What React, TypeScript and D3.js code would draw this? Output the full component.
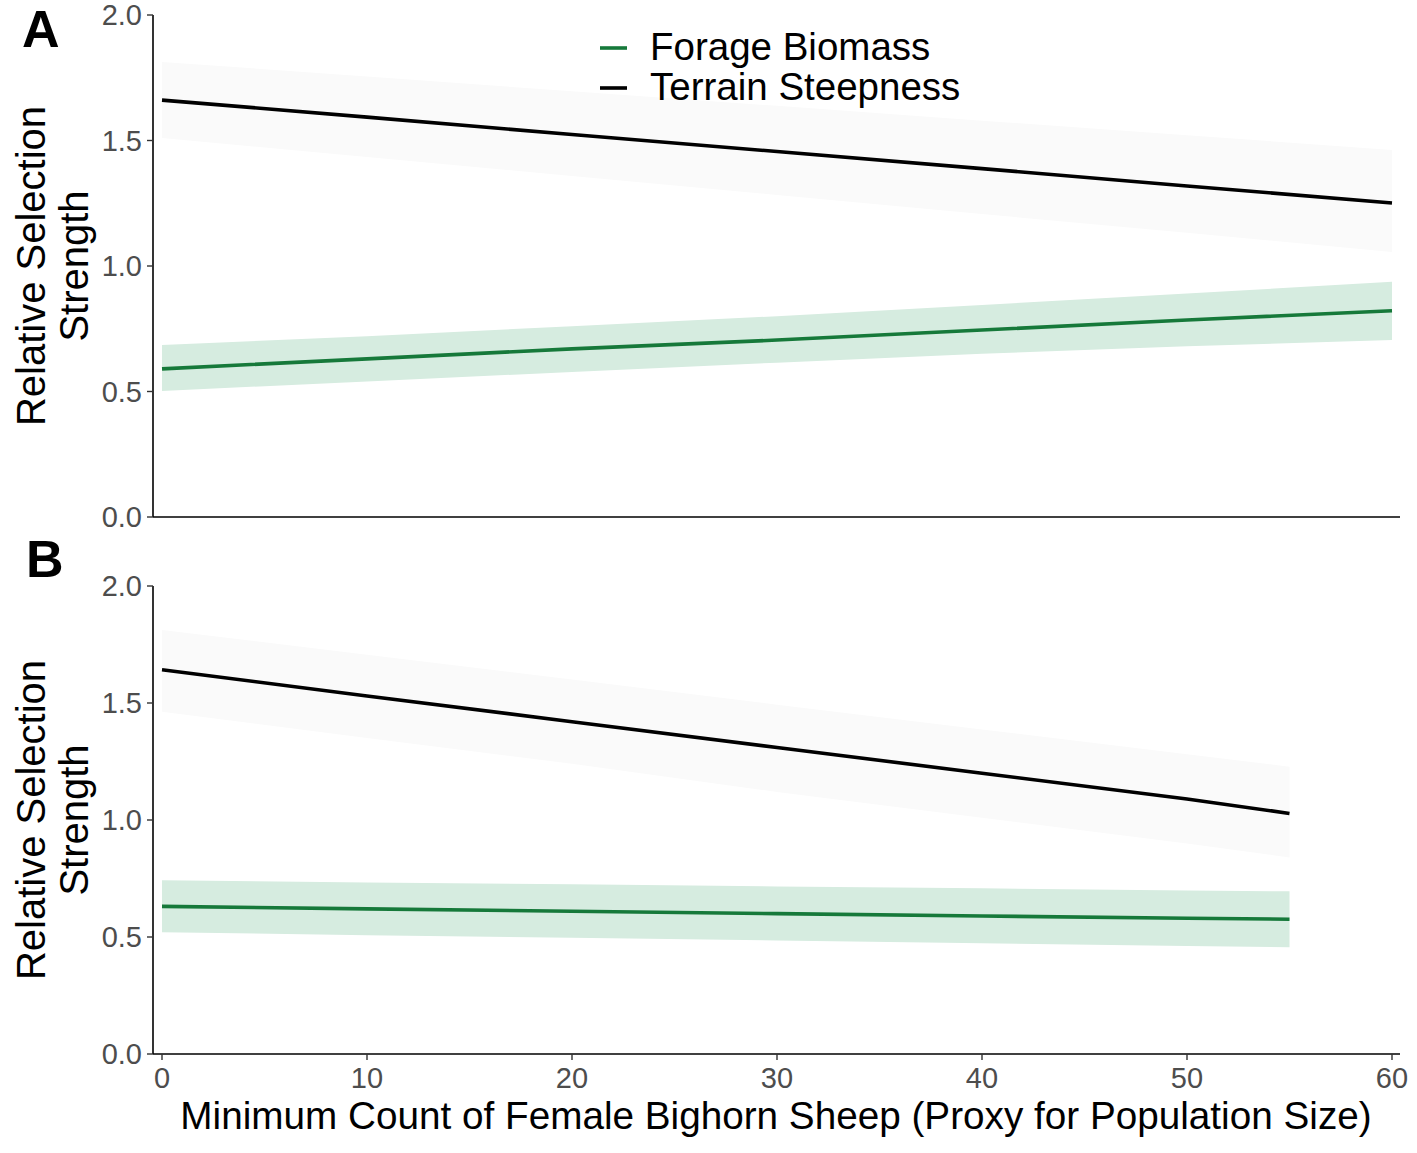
import React from "react";
import * as d3 from "d3";

// ---- Data ----
const seriesNames = ["Forage Biomass", "Terrain Steepness"];
const yTicks = [0, 0.5, 1.0, 1.5, 2.0];
const xTicks = [0, 10, 20, 30, 40, 50, 60];

// Panel A
const xA = [0, 10, 20, 30, 40, 50, 60];
const terrainA = [1.661, 1.593, 1.524, 1.456, 1.388, 1.319, 1.251];
const terrainALo = [1.51, 1.434, 1.359, 1.283, 1.207, 1.132, 1.056];
const terrainAHi = [1.813, 1.755, 1.696, 1.638, 1.579, 1.521, 1.462];
const forageA = [0.59, 0.63, 0.67, 0.705, 0.745, 0.785, 0.822];
const forageALo = [0.502, 0.54, 0.578, 0.615, 0.65, 0.68, 0.705];
const forageAHi = [0.685, 0.72, 0.76, 0.8, 0.845, 0.89, 0.937];

// Panel B
const xB = [0, 10, 20, 30, 40, 50, 55];
const terrainB = [1.642, 1.53, 1.42, 1.31, 1.2, 1.09, 1.028];
const terrainBLo = [1.463, 1.35, 1.24, 1.12, 1.01, 0.9, 0.84];
const terrainBHi = [1.812, 1.706, 1.6, 1.493, 1.387, 1.281, 1.228];
const forageB = [0.631, 0.62, 0.61, 0.6, 0.59, 0.58, 0.576];
const forageBLo = [0.52, 0.508, 0.497, 0.485, 0.473, 0.462, 0.456];
const forageBHi = [0.742, 0.733, 0.725, 0.716, 0.708, 0.699, 0.695];

const GREEN = "#16793a";
const GREEN_FILL = "#d6ece0";
const GRAY_FILL = "#fafafa";
const FONT = "'Liberation Sans', Arial, Helvetica, sans-serif";

const W = 1417;
const H = 1153;
const axisX = 153;
const axisRight = 1400;
const x = d3.scaleLinear().domain([0, 60]).range([162, 1392]);

type Panel = {
  label: string;
  top: number;
  bottom: number;
  xs: number[];
  terrain: number[];
  terrainLo: number[];
  terrainHi: number[];
  forage: number[];
  forageLo: number[];
  forageHi: number[];
  showX: boolean;
  labelY: number;
};

const panels: Panel[] = [
  {
    label: "A", top: 15, bottom: 517, xs: xA,
    terrain: terrainA, terrainLo: terrainALo, terrainHi: terrainAHi,
    forage: forageA, forageLo: forageALo, forageHi: forageAHi,
    showX: false, labelY: 47,
  },
  {
    label: "B", top: 586, bottom: 1054, xs: xB,
    terrain: terrainB, terrainLo: terrainBLo, terrainHi: terrainBHi,
    forage: forageB, forageLo: forageBLo, forageHi: forageBHi,
    showX: true, labelY: 577,
  },
];

function PanelView({ p }: { p: Panel }) {
  const y = d3.scaleLinear().domain([0, 2]).range([p.bottom, p.top]);
  const idx = p.xs.map((_, i) => i);
  const area = (lo: number[], hi: number[]) =>
    d3.area<number>().x((i) => x(p.xs[i])).y0((i) => y(lo[i])).y1((i) => y(hi[i]))(idx) || "";
  const line = (v: number[]) =>
    d3.line<number>().x((i) => x(p.xs[i])).y((i) => y(v[i]))(idx) || "";
  const mid = (p.top + p.bottom) / 2;
  return (
    <g>
      <path d={area(p.terrainLo, p.terrainHi)} fill={GRAY_FILL} />
      <path d={area(p.forageLo, p.forageHi)} fill={GREEN_FILL} />
      <path d={line(p.terrain)} fill="none" stroke="#000" strokeWidth={3.6} />
      <path d={line(p.forage)} fill="none" stroke={GREEN} strokeWidth={3.6} />
      {/* axes */}
      <line x1={axisX} x2={axisX} y1={p.top} y2={p.bottom} stroke="#000" strokeWidth={1.6} />
      <line x1={axisX} x2={axisRight} y1={p.bottom} y2={p.bottom} stroke="#000" strokeWidth={1.6} />
      {yTicks.map((t) => (
        <g key={t}>
          <line x1={axisX - 6} x2={axisX} y1={y(t)} y2={y(t)} stroke="#333" strokeWidth={1.4} />
          <text x={142} y={y(t)} dy="0.36em" textAnchor="end" fontSize={29} fill="#4d4d4d" fontFamily={FONT}>
            {t.toFixed(1)}
          </text>
        </g>
      ))}
      {p.showX &&
        xTicks.map((t) => (
          <g key={t}>
            <line x1={x(t)} x2={x(t)} y1={p.bottom} y2={p.bottom + 6} stroke="#333" strokeWidth={1.4} />
            <text x={x(t)} y={1088} textAnchor="middle" fontSize={29} fill="#4d4d4d" fontFamily={FONT}>
              {t}
            </text>
          </g>
        ))}
      {/* y title */}
      <text transform={`translate(45,${mid}) rotate(-90)`} textAnchor="middle" fontSize={40} fill="#000" fontFamily={FONT}>
        Relative Selection
      </text>
      <text transform={`translate(88,${mid}) rotate(-90)`} textAnchor="middle" fontSize={40} fill="#000" fontFamily={FONT}>
        Strength
      </text>
      <text x={p.label === "A" ? 22 : 26} y={p.labelY} fontSize={52} fontWeight="bold" fill="#000" fontFamily={FONT}>
        {p.label}
      </text>
    </g>
  );
}

export default function App() {
  const legendColors = [GREEN, "#000"];
  return (
    <svg width={W} height={H} style={{ position: "absolute", left: 0, top: 0, background: "#fff" }}>
      <rect width={W} height={H} fill="#fff" />
      {panels.map((p) => (
        <PanelView key={p.label} p={p} />
      ))}
      <text x={776} y={1129} textAnchor="middle" fontSize={38.7} fill="#000" fontFamily={FONT}>
        Minimum Count of Female Bighorn Sheep (Proxy for Population Size)
      </text>
      {seriesNames.map((s, i) => (
        <g key={s}>
          <line x1={600} x2={627} y1={48 + i * 40} y2={48 + i * 40} stroke={legendColors[i]} strokeWidth={3.6} />
          <text x={650} y={60 + i * 40} fontSize={38.5} fill="#000" fontFamily={FONT}>
            {s}
          </text>
        </g>
      ))}
    </svg>
  );
}
